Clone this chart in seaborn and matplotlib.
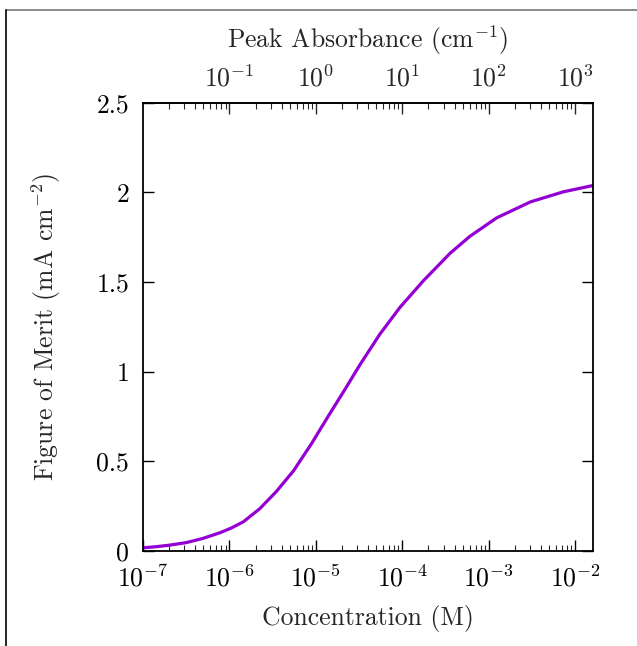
import numpy as np
import pandas as pd
import seaborn as sns
import matplotlib.pyplot as plt
import matplotlib.ticker as mticker
from matplotlib.lines import Line2D

sns.set_theme(style="ticks")
plt.rcParams['font.family'] = ['cmr10', 'DejaVu Serif']
plt.rcParams['mathtext.fontset'] = 'cm'
plt.rcParams['axes.formatter.use_mathtext'] = True

# values: log10 of concentration (M) and figure of merit (mA cm^-2)
log_conc = [-7.00, -6.85, -6.69, -6.50, -6.31, -6.11, -5.98, -5.84, -5.65, -5.46,
            -5.26, -5.05, -4.84, -4.66, -4.49, -4.26, -4.03, -3.76, -3.45, -3.22,
            -2.91, -2.52, -2.14, -1.80]
fom = [0.018, 0.024, 0.033, 0.047, 0.070, 0.102, 0.128, 0.163, 0.236, 0.331,
       0.447, 0.600, 0.766, 0.905, 1.040, 1.210, 1.358, 1.506, 1.660, 1.755,
       1.858, 1.947, 2.003, 2.038]
y_ticks = [0, 0.5, 1, 1.5, 2, 2.5]
y_tick_labels = ['0', '0.5', '1', '1.5', '2', '2.5']
top_ticks = [1e-1, 1e0, 1e1, 1e2, 1e3]
abs_per_conc = 1e5  # peak absorbance (cm^-1) per molar concentration

data = pd.DataFrame({'conc': 10.0 ** np.array(log_conc), 'fom': fom})

fig = plt.figure(figsize=(6.37, 6.46), dpi=100)
ax = fig.add_axes([0.2245, 0.147, 0.7065, 0.694])

sns.lineplot(data=data, x='conc', y='fom', ax=ax, color='#9400D3', linewidth=2.3)
ax.set_xscale('log')
ax.set_xlim(1e-7, 1.6e-2)
ax.set_ylim(0, 2.5)
ax.set_yticks(y_ticks)
ax.set_yticklabels(y_tick_labels)
ax.xaxis.set_major_locator(mticker.LogLocator(base=10, numticks=10))
ax.xaxis.set_minor_locator(mticker.LogLocator(base=10, subs=np.arange(2, 10), numticks=20))
ax.xaxis.set_minor_formatter(mticker.NullFormatter())

fs = 18.5
ax.set_xlabel('Concentration (M)', fontsize=fs, labelpad=10)
ax.set_ylabel('Figure of Merit (mA cm$^{\\mathdefault{-2}}$)', fontsize=fs, labelpad=24)

for s in ax.spines.values():
    s.set_linewidth(1.3)
    s.set_color('black')
ax.tick_params(axis='both', which='major', direction='in', length=8, width=1,
               labelsize=fs, colors='black')
ax.tick_params(axis='x', which='major', pad=10)
ax.tick_params(axis='y', which='major', pad=10)
ax.tick_params(axis='x', which='minor', direction='in', length=4, width=0.8)
ax.tick_params(axis='y', which='both', right=True)
ax.tick_params(axis='x', which='both', top=False)

top = ax.secondary_xaxis('top', functions=(lambda x: x * abs_per_conc, lambda x: x / abs_per_conc))
top.xaxis.set_major_locator(mticker.FixedLocator(top_ticks))
top.xaxis.set_major_formatter(mticker.LogFormatterSciNotation())
top.xaxis.set_minor_locator(mticker.LogLocator(base=10, subs=np.arange(2, 10), numticks=20))
top.xaxis.set_minor_formatter(mticker.NullFormatter())
top.tick_params(axis='x', which='major', direction='in', length=8, width=1, labelsize=fs, pad=8)
top.tick_params(axis='x', which='minor', direction='in', length=4, width=0.8)
top.set_xlabel('Peak Absorbance (cm$^{\\mathdefault{-1}}$)', fontsize=fs, labelpad=12)

# thin frame lines along the top and left edge of the picture
fig.add_artist(Line2D([6 / 637, 1], [1 - 9.5 / 646, 1 - 9.5 / 646], color='#777777', linewidth=1.2))
fig.add_artist(Line2D([6 / 637, 6 / 637], [0, 1 - 9.5 / 646], color='black', linewidth=1.2))

fig.savefig('out.png', dpi=100)
